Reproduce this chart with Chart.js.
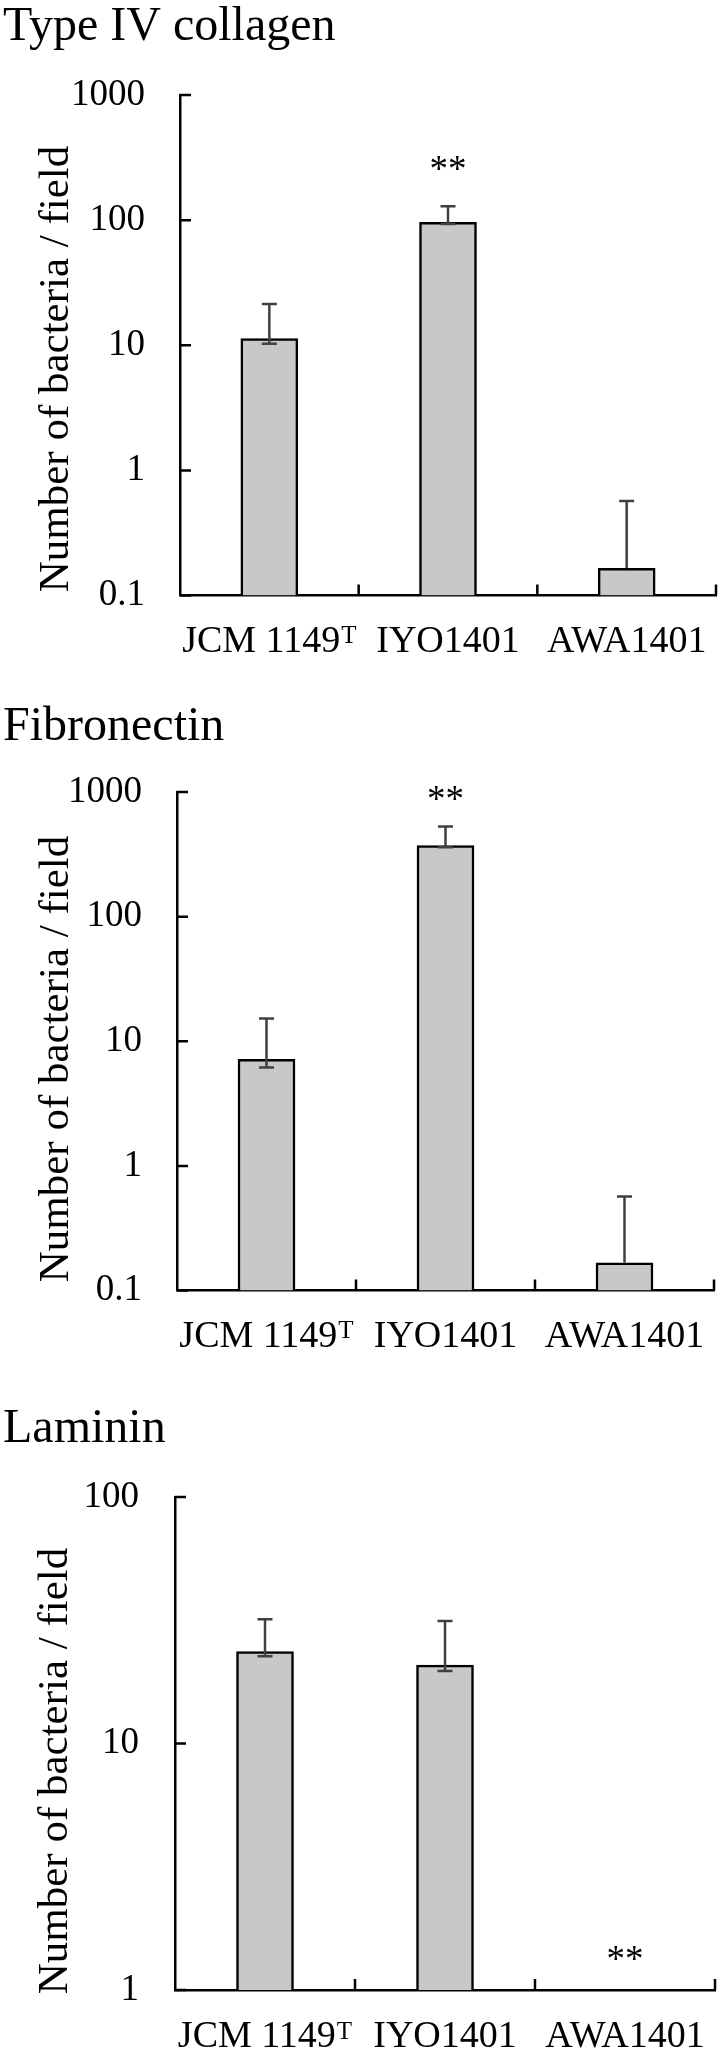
<!DOCTYPE html>
<html><head><meta charset="utf-8">
<script src="https://cdn.jsdelivr.net/npm/chart.js@4/dist/chart.umd.min.js"></script>
<style>
html,body{margin:0;padding:0;background:#fff;}
body{width:720px;height:2054px;position:relative;overflow:hidden;}
.panel{position:absolute;left:0;width:720px;}
canvas{display:block;}
</style></head><body>
<div class="panel" style="top:0px;height:690px"><canvas id="c1" width="720" height="690" style="width:720px;height:690px"></canvas></div>
<div class="panel" style="top:690px;height:690px"><canvas id="c2" width="720" height="690" style="width:720px;height:690px"></canvas></div>
<div class="panel" style="top:1380px;height:674px"><canvas id="c3" width="720" height="674" style="width:720px;height:674px"></canvas></div>
<script>
// ---- data ----
const categories = ['JCM 1149', 'IYO1401', 'AWA1401'];
const categorySuperscripts = ['T', '', ''];
const yAxisTitle = 'Number of bacteria / field';
const sigMark = '**';

const collagenTitle = 'Type IV collagen';
const collagenMean = [11.3, 96, 0.165];
const collagenErrHigh = [21.4, 129, 0.57];
const collagenErrLow = [10.3, 93, null];
const collagenSigAt = [null, 279, null];
const collagenTicks = [0.1, 1, 10, 100, 1000];
const collagenTickLabels = ['0.1', '1', '10', '100', '1000'];

const fibronectinTitle = 'Fibronectin';
const fibronectinMean = [7.16, 371, 0.167];
const fibronectinErrHigh = [15.2, 529, 0.567];
const fibronectinErrLow = [6.17, 360, null];
const fibronectinSigAt = [null, 968, null];
const fibronectinTicks = [0.1, 1, 10, 100, 1000];
const fibronectinTickLabels = ['0.1', '1', '10', '100', '1000'];

const lamininTitle = 'Laminin';
const lamininMean = [23.6, 20.8, null];
const lamininErrHigh = [31.9, 31.4, null];
const lamininErrLow = [22.6, 19.7, null];
const lamininSigAt = [null, null, 1.4];
const lamininTicks = [1, 10, 100];
const lamininTickLabels = ['1', '10', '100'];

// ---- rendering ----
const FONT = '"Liberation Serif", "Times New Roman", Times, serif';
Chart.defaults.font.family = FONT;
Chart.defaults.color = '#000';

function makeChart(id, cfg) {
  const decor = {
    id: 'decor',
    afterDatasetsDraw(chart) {
      const ctx = chart.ctx, xs = chart.scales.x, ys = chart.scales.y, a = chart.chartArea;
      ctx.save();
      // error bars
      ctx.strokeStyle = '#404040'; ctx.lineWidth = 2.5;
      for (let i = 0; i < cfg.mean.length; i++) {
        if (cfg.errHigh[i] == null) continue;
        const x = xs.getPixelForValue(i);
        const yT = ys.getPixelForValue(cfg.errHigh[i]);
        const lowV = cfg.errLow[i] != null ? cfg.errLow[i] : cfg.mean[i];
        const yB = ys.getPixelForValue(lowV);
        ctx.beginPath();
        ctx.moveTo(x, yB); ctx.lineTo(x, yT);
        ctx.moveTo(x - 7.5, yT); ctx.lineTo(x + 7.5, yT);
        if (cfg.errLow[i] != null) { ctx.moveTo(x - 7.5, yB); ctx.lineTo(x + 7.5, yB); }
        ctx.stroke();
      }
      // inward tick marks
      ctx.strokeStyle = '#000'; ctx.lineWidth = 2.5;
      ctx.beginPath();
      cfg.ticks.forEach(v => { const y = ys.getPixelForValue(v); ctx.moveTo(a.left, y); ctx.lineTo(a.left + 11, y); });
      const spacing = xs.getPixelForValue(1) - xs.getPixelForValue(0);
      for (let i = 0; i < categories.length; i++) {
        const x = xs.getPixelForValue(i) + spacing / 2;
        ctx.moveTo(x, a.bottom); ctx.lineTo(x, a.bottom - 11);
      }
      ctx.stroke();
      ctx.restore();
    },
    afterDraw(chart) {
      const ctx = chart.ctx, xs = chart.scales.x, ys = chart.scales.y, a = chart.chartArea;
      ctx.save();
      ctx.fillStyle = '#000';
      // panel title
      ctx.font = '48px ' + FONT; ctx.textAlign = 'left'; ctx.textBaseline = 'alphabetic';
      ctx.fillText(cfg.title, 3, cfg.titleBaseline);
      // y axis title
      ctx.save();
      ctx.translate(cfg.yTitleBaseline, cfg.yTitleCenter);
      ctx.rotate(-Math.PI / 2);
      ctx.font = '43px ' + FONT; ctx.textAlign = 'center';
      ctx.fillText(yAxisTitle, 0, 0);
      ctx.restore();
      // category labels with superscripts
      const by = a.bottom + cfg.labelBaselineOffset;
      for (let i = 0; i < categories.length; i++) {
        const x = xs.getPixelForValue(i);
        ctx.font = '38px ' + FONT;
        const w1 = ctx.measureText(categories[i]).width;
        ctx.font = '25px ' + FONT;
        const w2 = categorySuperscripts[i] ? ctx.measureText(categorySuperscripts[i]).width + 1 : 0;
        const x0 = x - (w1 + w2) / 2;
        ctx.font = '38px ' + FONT; ctx.textAlign = 'left';
        ctx.fillText(categories[i], x0, by);
        if (w2) { ctx.font = '25px ' + FONT; ctx.fillText(categorySuperscripts[i], x0 + w1 + 1, by - 8.5); }
      }
      // significance marks
      ctx.font = '37px ' + FONT; ctx.textAlign = 'center';
      cfg.sigAt.forEach((v, i) => {
        if (v == null) return;
        ctx.fillText(sigMark, xs.getPixelForValue(i), ys.getPixelForValue(v) + 17);
      });
      ctx.restore();
    }
  };
  return new Chart(document.getElementById(id), {
    type: 'bar',
    data: {
      labels: categories,
      datasets: [{
        data: cfg.mean,
        backgroundColor: '#c8c8c8',
        borderColor: '#000',
        borderWidth: 2.5,
        barThickness: 57
      }]
    },
    options: {
      responsive: false,
      animation: false,
      layout: { padding: { top: cfg.plotTop, left: 0, right: 720 - cfg.plotRight, bottom: 0 } },
      plugins: { legend: { display: false }, tooltip: { enabled: false }, title: { display: false } },
      scales: {
        x: {
          type: 'category',
          grid: { display: false, drawTicks: false },
          border: { display: true, color: '#000', width: 2.5 },
          ticks: { display: false },
          afterFit: s => { s.height = cfg.height - cfg.plotBottom; }
        },
        y: {
          type: 'logarithmic',
          min: cfg.ticks[0],
          max: cfg.ticks[cfg.ticks.length - 1],
          afterBuildTicks: s => { s.ticks = cfg.ticks.map(v => ({ value: v })); },
          afterFit: s => { s.width = cfg.plotLeft; },
          grid: { display: false, drawTicks: false },
          border: { display: true, color: '#000', width: 2.5 },
          ticks: {
            font: { size: 37 }, color: '#000', padding: cfg.tickPad, autoSkip: false,
            callback: (v, i) => cfg.tickLabels[i]
          }
        }
      }
    },
    plugins: [decor]
  });
}

makeChart('c1', {
  title: collagenTitle, titleBaseline: 40, height: 690,
  plotLeft: 180, plotRight: 716, plotTop: 95, plotBottom: 595.5,
  mean: collagenMean, errHigh: collagenErrHigh, errLow: collagenErrLow, sigAt: collagenSigAt,
  ticks: collagenTicks, tickLabels: collagenTickLabels, tickPad: 35,
  yTitleBaseline: 68, yTitleCenter: 369, labelBaselineOffset: 56
});
makeChart('c2', {
  title: fibronectinTitle, titleBaseline: 50, height: 690,
  plotLeft: 177, plotRight: 714, plotTop: 102, plotBottom: 600.5,
  mean: fibronectinMean, errHigh: fibronectinErrHigh, errLow: fibronectinErrLow, sigAt: fibronectinSigAt,
  ticks: fibronectinTicks, tickLabels: fibronectinTickLabels, tickPad: 35,
  yTitleBaseline: 68, yTitleCenter: 369, labelBaselineOffset: 56
});
makeChart('c3', {
  title: lamininTitle, titleBaseline: 62, height: 674,
  plotLeft: 175, plotRight: 715, plotTop: 117, plotBottom: 610,
  mean: lamininMean, errHigh: lamininErrHigh, errLow: lamininErrLow, sigAt: lamininSigAt,
  ticks: lamininTicks, tickLabels: lamininTickLabels, tickPad: 36,
  yTitleBaseline: 67, yTitleCenter: 391, labelBaselineOffset: 57
});
</script>
</body></html>
